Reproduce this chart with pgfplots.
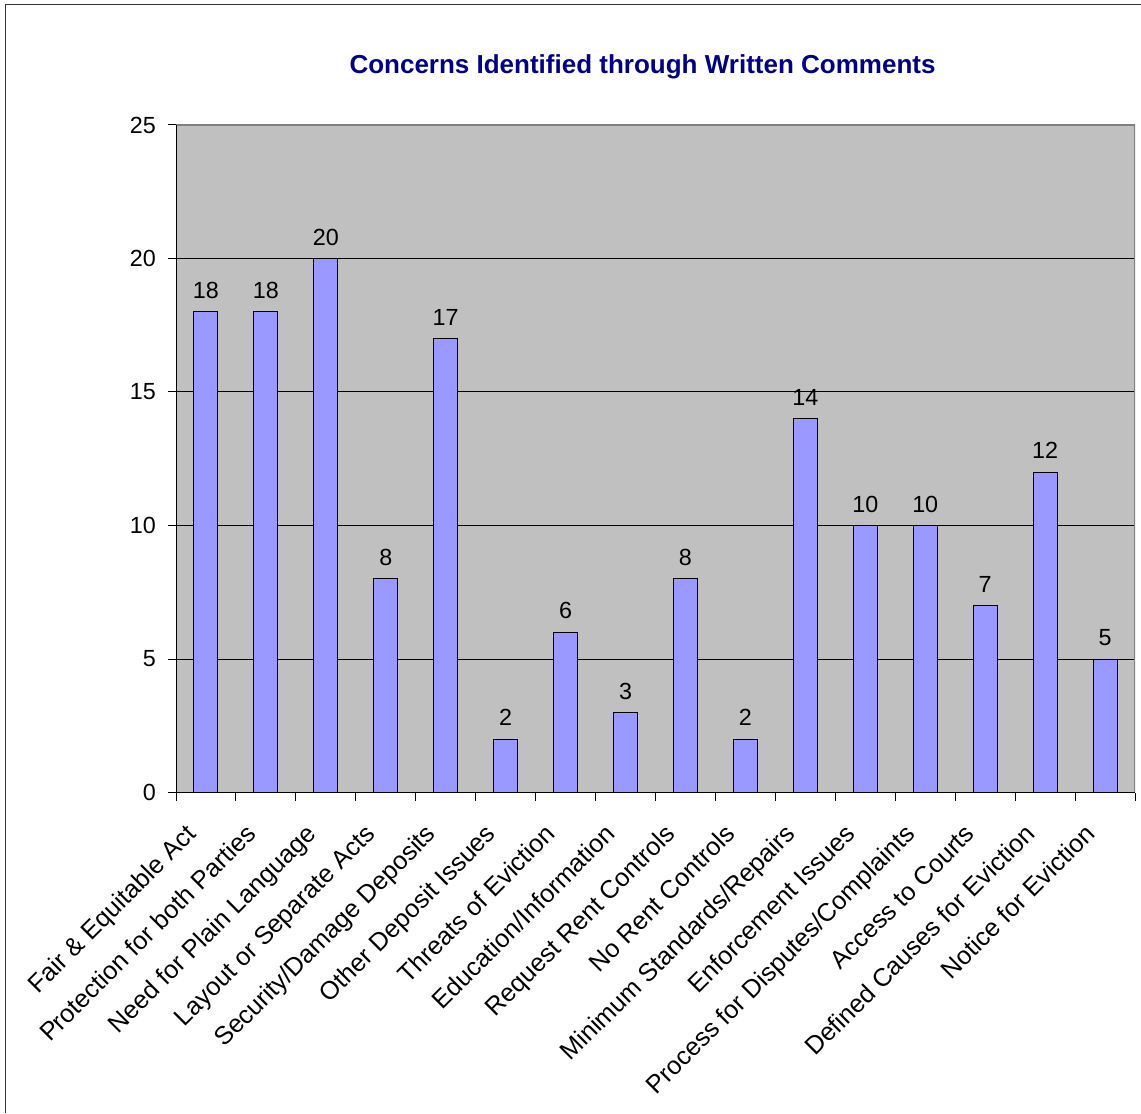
\documentclass[border=0pt]{standalone}
\usepackage{pgfplots}
\pgfplotsset{compat=1.18}
\usepackage{fontspec}
\setmainfont{Liberation Sans}

\definecolor{plotgray}{HTML}{C0C0C0}
\definecolor{barblue}{HTML}{9999FF}
\definecolor{titlenavy}{HTML}{000080}
\definecolor{bordergray}{HTML}{808080}

\begin{document}
\begin{tikzpicture}
% page area
\useasboundingbox (0pt,0pt) rectangle (855.75pt,834.75pt);
% outer chart frame (left and top edges)
\draw[line width=1.1pt, black!80] (4.125pt,0pt) -- (4.125pt,831.375pt) -- (855.75pt,831.375pt);

% chart title
\node[anchor=base, text=titlenavy, font=\fontsize{19.5}{23}\selectfont\bfseries]
  at (481.875pt,779.25pt) {Concerns Identified through Written Comments};

\begin{axis}[
  at={(132pt,240.375pt)}, anchor=south west,
  scale only axis,
  width=719.25pt, height=500.625pt,
  xmin=-0.5, xmax=15.5,
  ymin=0, ymax=25,
  axis background/.style={fill=plotgray},
  axis line style={draw=none},
  tick align=outside,
  xtick pos=bottom, ytick pos=left,
  major tick length=6pt,
  minor tick length=6pt,
  tick style={black, line width=0.75pt},
  every major x tick/.style={draw=none},
  xtick={0,...,15},
  minor xtick={-0.5,0.5,...,15.5},
  xticklabels={
    Fair \& Equitable Act,
    Protection for both Parties,
    Need for Plain Language,
    Layout or Separate Acts,
    Security/Damage Deposits,
    Other Deposit Issues,
    Threats of Eviction,
    Education/Information,
    Request Rent Controls,
    No Rent Controls,
    Minimum Standards/Repairs,
    Enforcement Issues,
    Process for Disputes/Complaints,
    Access to Courts,
    Defined Causes for Eviction,
    Notice for Eviction},
  xticklabel style={xshift=-16.3pt, yshift=-16.5pt, rotate=45, anchor=north east,
    inner sep=0pt, font=\fontsize{19}{22}\selectfont},
  ytick={0,5,...,25},
  yticklabel style={font=\fontsize{17.5}{21}\selectfont, inner sep=0pt, xshift=-9pt},
  /pgf/number format/assume math mode=true,
  ymajorgrids,
  major grid style={black, line width=0.75pt},
  ybar, bar width=18pt,
  nodes near coords,
  every node near coord/.append style={font=\fontsize{17.5}{21}\selectfont,
    anchor=south, inner sep=0pt, yshift=9.5pt, text=black},
]
\addplot[fill=barblue, draw=black, line width=0.75pt] coordinates {
  (0,18) (1,18) (2,20) (3,8) (4,17) (5,2) (6,6) (7,3)
  (8,8) (9,2) (10,14) (11,10) (12,10) (13,7) (14,12) (15,5)
};
% plot-area border: gray top and right, black axes left and bottom
\draw[bordergray, line width=0.9pt] (rel axis cs:0,1) -- (rel axis cs:1,1) -- (rel axis cs:1,0);
\draw[black, line width=0.9pt] (rel axis cs:0,1) -- (rel axis cs:0,0) -- (rel axis cs:1,0);
\end{axis}
\end{tikzpicture}
\end{document}
